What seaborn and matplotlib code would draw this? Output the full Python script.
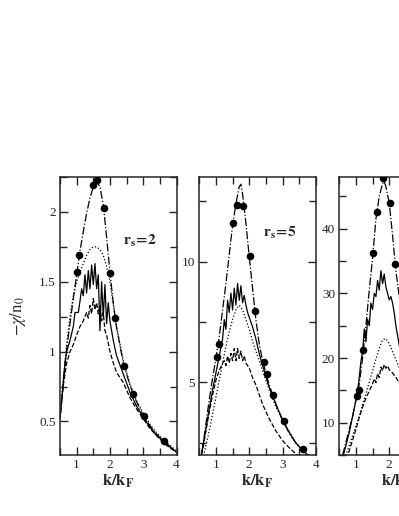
import numpy as np
import pandas as pd
import matplotlib
matplotlib.use("Agg")
import matplotlib.pyplot as plt
from matplotlib.ticker import MultipleLocator, FormatStrFormatter
import seaborn as sns

# ---------------- data ----------------
# panel 1 (r_s = 2)
k1_dd = [0.5, 0.6, 0.7, 0.8, 0.9, 1.0, 1.1, 1.2, 1.3, 1.4, 1.5, 1.6, 1.7, 1.8, 1.9, 2.0, 2.1, 2.2, 2.4, 2.6, 2.8, 3.0, 3.2, 3.4, 3.6, 3.8, 4.0]
v1_dd = [0.52, 0.78, 1.02, 1.20, 1.38, 1.55, 1.72, 1.86, 1.99, 2.10, 2.18, 2.22, 2.18, 2.05, 1.82, 1.57, 1.35, 1.17, 0.92, 0.76, 0.64, 0.54, 0.47, 0.41, 0.36, 0.32, 0.28]
k1_dot = [0.5, 0.6, 0.7, 0.8, 0.9, 1.0, 1.1, 1.2, 1.3, 1.4, 1.5, 1.6, 1.7, 1.8, 1.9, 2.0, 2.1, 2.2, 2.4, 2.6, 2.8, 3.0, 3.2, 3.4, 3.6, 3.8, 4.0]
v1_dot = [0.52, 0.80, 1.05, 1.25, 1.40, 1.50, 1.57, 1.63, 1.69, 1.73, 1.75, 1.75, 1.73, 1.69, 1.61, 1.50, 1.34, 1.18, 0.94, 0.77, 0.65, 0.56, 0.48, 0.42, 0.37, 0.33, 0.29]
k1_sol = [0.5, 0.6, 0.65, 0.7, 0.8, 0.9, 0.95, 1.05, 1.1, 1.15, 1.2, 1.25, 1.3, 1.35, 1.4, 1.45, 1.5, 1.55, 1.6, 1.65, 1.7, 1.75, 1.8, 1.85, 1.9, 1.95, 2.0, 2.1, 2.2, 2.4, 2.6, 2.8, 3.0, 3.2, 3.4, 3.6, 3.8, 4.0]
v1_sol = [0.52, 0.78, 0.92, 1.0, 1.08, 1.18, 1.28, 1.28, 1.36, 1.45, 1.40, 1.55, 1.42, 1.58, 1.45, 1.62, 1.48, 1.63, 1.45, 1.55, 1.15, 1.50, 1.25, 1.48, 1.20, 1.35, 1.22, 1.08, 0.97, 0.84, 0.71, 0.61, 0.53, 0.46, 0.40, 0.36, 0.32, 0.28]
k1_das = [0.5, 0.6, 0.7, 0.8, 0.9, 1.0, 1.1, 1.2, 1.3, 1.35, 1.4, 1.45, 1.5, 1.55, 1.6, 1.65, 1.7, 1.75, 1.8, 1.85, 1.9, 2.0, 2.1, 2.2, 2.4, 2.6, 2.8, 3.0, 3.2, 3.4, 3.6, 3.8, 4.0]
v1_das = [0.52, 0.76, 0.92, 1.0, 1.05, 1.12, 1.18, 1.22, 1.28, 1.24, 1.33, 1.27, 1.38, 1.30, 1.35, 1.27, 1.33, 1.22, 1.28, 1.15, 1.12, 1.00, 0.92, 0.85, 0.78, 0.67, 0.59, 0.52, 0.45, 0.40, 0.35, 0.31, 0.28]
k1_pts = [1.0, 1.07, 1.5, 1.6, 1.81, 2.0, 2.14, 2.41, 2.68, 3.02, 3.62]
v1_pts = [1.57, 1.69, 2.19, 2.23, 2.03, 1.56, 1.24, 0.90, 0.70, 0.54, 0.357]

# panel 2 (r_s = 5)
k2_dd = [0.5, 0.6, 0.7, 0.8, 0.9, 1.0, 1.1, 1.2, 1.3, 1.4, 1.5, 1.6, 1.7, 1.75, 1.8, 1.9, 2.0, 2.1, 2.2, 2.3, 2.4, 2.6, 2.8, 3.0, 3.2, 3.4, 3.6, 3.8, 4.0]
v2_dd = [1.6, 2.3, 3.3, 4.3, 5.2, 6.0, 6.9, 8.0, 9.1, 10.3, 11.5, 12.4, 13.1, 13.2, 12.8, 11.6, 10.2, 8.9, 7.6, 6.6, 5.9, 4.9, 4.1, 3.45, 2.9, 2.5, 2.2, 1.95, 1.75]
k2_dot = [0.5, 0.6, 0.7, 0.8, 0.9, 1.0, 1.1, 1.2, 1.3, 1.4, 1.5, 1.6, 1.7, 1.8, 1.9, 2.0, 2.1, 2.2, 2.3, 2.4, 2.6, 2.8, 3.0, 3.2, 3.4, 3.6, 3.8, 4.0]
v2_dot = [1.3, 1.8, 2.4, 3.0, 3.7, 4.4, 5.1, 5.8, 6.5, 7.1, 7.6, 8.0, 8.2, 8.0, 7.6, 7.2, 6.7, 6.3, 5.9, 5.5, 4.7, 4.0, 3.45, 2.95, 2.5, 2.2, 1.95, 1.75]
k2_sol = [0.5, 0.6, 0.7, 0.8, 0.9, 1.0, 1.1, 1.2, 1.25, 1.3, 1.35, 1.4, 1.45, 1.5, 1.55, 1.6, 1.65, 1.7, 1.75, 1.8, 1.85, 1.9, 1.95, 2.0, 2.1, 2.2, 2.3, 2.4, 2.6, 2.8, 3.0, 3.2, 3.4, 3.6, 3.8, 4.0]
v2_sol = [1.5, 2.3, 3.1, 3.9, 4.7, 5.4, 6.1, 6.8, 7.6, 7.2, 8.4, 7.9, 8.7, 8.0, 8.9, 8.2, 9.1, 8.4, 9.0, 8.3, 8.6, 8.2, 7.9, 7.7, 7.3, 6.8, 6.2, 5.7, 4.8, 4.1, 3.45, 2.95, 2.5, 2.2, 1.95, 1.75]
k2_das = [0.5, 0.6, 0.7, 0.8, 0.9, 1.0, 1.1, 1.2, 1.25, 1.3, 1.35, 1.4, 1.45, 1.5, 1.55, 1.6, 1.65, 1.7, 1.75, 1.8, 1.85, 1.9, 2.0, 2.1, 2.2, 2.3, 2.4, 2.6, 2.8, 3.0, 3.2, 3.4, 3.6, 3.8, 4.0]
v2_das = [1.5, 2.2, 3.0, 3.8, 4.5, 5.1, 5.5, 5.8, 5.9, 5.7, 6.1, 5.8, 6.2, 5.9, 6.4, 5.9, 6.4, 6.0, 6.3, 5.9, 6.1, 5.8, 5.6, 5.2, 4.9, 4.5, 4.1, 3.5, 3.0, 2.6, 2.3, 2.05, 1.85, 1.65, 1.5]
k2_pts = [1.02, 1.09, 1.52, 1.62, 1.82, 2.02, 2.17, 2.44, 2.52, 2.70, 3.04, 3.63]
v2_pts = [6.05, 6.58, 11.58, 12.33, 12.29, 10.25, 7.95, 5.85, 5.34, 4.48, 3.40, 2.26]

# panel 3 (r_s = 10)
k3_dd = [0.5, 0.6, 0.7, 0.8, 0.9, 1.0, 1.1, 1.2, 1.3, 1.4, 1.5, 1.6, 1.7, 1.8, 1.85, 1.9, 2.0, 2.1, 2.2, 2.3, 2.4, 2.6, 2.8, 3.0, 3.2, 3.4, 3.6, 3.8, 4.0]
v3_dd = [3.0, 5.0, 7.0, 9.0, 11.0, 13.5, 16.0, 20.0, 25.0, 30.5, 35.5, 41.5, 45.0, 47.0, 47.3, 46.5, 44.0, 39.0, 33.5, 29.5, 26.0, 20.5, 16.5, 13.5, 11.0, 9.0, 7.5, 6.3, 5.4]
k3_dot = [0.5, 0.6, 0.7, 0.8, 0.9, 1.0, 1.1, 1.2, 1.3, 1.4, 1.5, 1.6, 1.7, 1.8, 1.9, 2.0, 2.1, 2.2, 2.3, 2.4, 2.6, 2.8, 3.0, 3.2, 3.4, 3.6, 3.8, 4.0]
v3_dot = [2.0, 3.5, 5.0, 6.5, 8.0, 9.5, 11.0, 12.8, 14.5, 16.3, 18.0, 19.8, 21.5, 22.8, 23.0, 22.2, 21.0, 19.8, 18.5, 17.2, 15.0, 13.0, 11.3, 9.8, 8.6, 7.5, 6.6, 5.8]
k3_sol = [0.5, 0.6, 0.7, 0.8, 0.9, 1.0, 1.05, 1.1, 1.15, 1.2, 1.25, 1.3, 1.35, 1.4, 1.45, 1.5, 1.55, 1.6, 1.65, 1.7, 1.75, 1.8, 1.85, 1.9, 1.95, 2.0, 2.05, 2.1, 2.15, 2.2, 2.3, 2.4, 2.6, 2.8, 3.0, 3.2, 3.4, 3.6, 3.8, 4.0]
v3_sol = [2.5, 4.5, 6.5, 8.5, 11.0, 13.5, 15.0, 17.0, 19.5, 21.0, 24.5, 22.5, 26.0, 25.0, 28.5, 27.5, 30.0, 29.5, 32.0, 30.5, 33.5, 31.5, 33.0, 31.0, 30.0, 29.0, 29.5, 28.5, 27.0, 25.0, 22.0, 19.5, 16.0, 13.5, 11.5, 10.0, 8.5, 7.3, 6.3, 5.5]
k3_das = [0.5, 0.6, 0.7, 0.8, 0.9, 1.0, 1.1, 1.2, 1.3, 1.4, 1.5, 1.55, 1.6, 1.65, 1.7, 1.75, 1.8, 1.85, 1.9, 1.95, 2.0, 2.1, 2.2, 2.3, 2.4, 2.6, 2.8, 3.0, 3.2, 3.4, 3.6, 3.8, 4.0]
v3_das = [1.5, 2.8, 4.2, 5.7, 7.3, 9.0, 10.8, 12.4, 13.8, 14.9, 16.0, 16.8, 16.2, 17.6, 17.0, 18.6, 18.0, 19.0, 18.4, 18.8, 18.2, 17.7, 17.0, 16.2, 15.3, 13.6, 12.0, 10.6, 9.3, 8.2, 7.2, 6.4, 5.7]
k3_pts = [1.02, 1.09, 1.22, 1.52, 1.62, 1.82, 2.02, 2.17]
v3_pts = [14.2, 15.0, 21.3, 36.25, 42.6, 47.8, 44.0, 34.5]

panels = [
    dict(dd=(k1_dd, v1_dd), dot=(k1_dot, v1_dot), sol=(k1_sol, v1_sol), das=(k1_das, v1_das),
         pts=(k1_pts, v1_pts), ylim=(0.26, 2.25), major=0.5, minor=0.25,
         label=r"$\mathbf{r_s\!=\!2}$", lab_xy=(2.38, 1.79)),
    dict(dd=(k2_dd, v2_dd), dot=(k2_dot, v2_dot), sol=(k2_sol, v2_sol), das=(k2_das, v2_das),
         pts=(k2_pts, v2_pts), ylim=(2.0, 13.5), major=5, minor=2.5,
         label=r"$\mathbf{r_s\!=\!5}$", lab_xy=(2.41, 11.2)),
    dict(dd=(k3_dd, v3_dd), dot=(k3_dot, v3_dot), sol=(k3_sol, v3_sol), das=(k3_das, v3_das),
         pts=(k3_pts, v3_pts), ylim=(5.0, 48.0), major=10, minor=5,
         label=None, lab_xy=None),
]

# ---------------- style ----------------
sns.set_style("ticks")
plt.rcParams["font.family"] = ["Liberation Serif", "DejaVu Serif"]
plt.rcParams["mathtext.fontset"] = "stix"
plt.rcParams["axes.linewidth"] = 1.1

fig = plt.figure(figsize=(3.99, 5.16), dpi=100)
W, H = 399.0, 516.0
lefts = [60.0, 199.3, 339.3]
top_px, bot_px = 177.0, 455.0
width_px = 116.5

styles = [("dd", "-."), ("dot", ":"), ("sol", "-"), ("das", "--")]

for i, p in enumerate(panels):
    ax = fig.add_axes([lefts[i] / W, (H - bot_px) / H, width_px / W, (bot_px - top_px) / H])
    for key, ls in styles:
        kk, vv = p[key]
        df = pd.DataFrame({"k": kk, "v": vv})
        sns.lineplot(data=df, x="k", y="v", ax=ax, color="black", linewidth=0.9,
                     linestyle=ls, estimator=None, sort=False, legend=False)
    kk, vv = p["pts"]
    dfp = pd.DataFrame({"k": kk, "v": vv})
    sns.scatterplot(data=dfp, x="k", y="v", ax=ax, color="black", s=30,
                    edgecolor="black", linewidth=0, legend=False, zorder=5)
    ax.set_xlim(0.5, 4.0)
    ax.set_ylim(*p["ylim"])
    ax.xaxis.set_major_locator(MultipleLocator(1))
    ax.xaxis.set_minor_locator(MultipleLocator(0.5))
    ax.yaxis.set_major_locator(MultipleLocator(p["major"]))
    ax.yaxis.set_minor_locator(MultipleLocator(p["minor"]))
    ax.xaxis.set_major_formatter(FormatStrFormatter("%g"))
    ax.yaxis.set_major_formatter(FormatStrFormatter("%g"))
    ax.tick_params(which="both", direction="in", top=True, right=True, width=1.0,
                   labelsize=9.5, pad=3)
    ax.tick_params(which="major", length=5.5)
    ax.tick_params(which="minor", length=5.0)
    ax.set_xlabel(r"$\mathbf{k/k_F}$", fontsize=12, labelpad=1)
    ax.set_ylabel("")
    for s in ax.spines.values():
        s.set_linewidth(1.1)
    if p["label"] is not None:
        ax.text(p["lab_xy"][0], p["lab_xy"][1], p["label"], fontsize=11, ha="left", va="center")
    if i == 0:
        ax.set_ylabel(r"$-\chi/\mathrm{n}_0$", fontsize=12, labelpad=8)

fig.savefig("out.png", dpi=100)
